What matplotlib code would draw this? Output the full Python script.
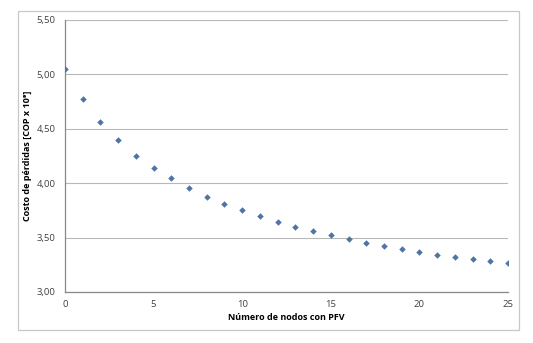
import matplotlib
matplotlib.use("Agg")
import matplotlib.pyplot as plt
from matplotlib.patches import Rectangle
from matplotlib.ticker import FuncFormatter

nodos = list(range(26))
costo = [5.05, 4.77, 4.565, 4.394, 4.247, 4.14, 4.045, 3.953, 3.876, 3.81,
         3.75, 3.696, 3.646, 3.60, 3.56, 3.52, 3.484, 3.45, 3.42, 3.392,
         3.368, 3.343, 3.32, 3.30, 3.285, 3.267]
x_ticks = [0, 5, 10, 15, 20, 25]
y_ticks = [3.0, 3.5, 4.0, 4.5, 5.0, 5.5]

plt.rcParams['font.family'] = ['Open Sans', 'DejaVu Sans']

W, H = 533, 343
fig = plt.figure(figsize=(W / 100, H / 100), dpi=100)
fig.patches.append(Rectangle((18 / W, 1 - 330 / H), (519 - 18) / W, (330 - 11) / H,
                             transform=fig.transFigure, fill=False,
                             edgecolor='#c8c8c8', linewidth=0.9))
ax = fig.add_axes([65 / W, 1 - 292 / H, (508 - 65) / W, (292 - 20) / H])

ax.scatter(nodos, costo, marker='D', s=11, color='#4F74A8', zorder=3, linewidths=0)

ax.set_xlim(0, 25)
ax.set_ylim(3.0, 5.5)
ax.set_xticks(x_ticks)
ax.set_yticks(y_ticks)
ax.yaxis.set_major_formatter(FuncFormatter(lambda v, p: f"{v:.2f}".replace('.', ',')))
ax.grid(axis='y', color='#b8b8b8', linewidth=0.8)
ax.set_axisbelow(True)
for s in ['top', 'right']:
    ax.spines[s].set_visible(False)
for s in ['left', 'bottom']:
    ax.spines[s].set_color('#888888')
    ax.spines[s].set_linewidth(0.9)
ax.tick_params(axis='both', length=0, labelsize=6.8, colors='#404040')
ax.tick_params(axis='x', pad=6)
ax.tick_params(axis='y', pad=7)

ax.set_xlabel('Número de nodos con PFV', fontsize=6.5, fontweight='bold', labelpad=3)
ax.set_ylabel('Costo de pérdidas [COP x 10⁹]', fontsize=6.5, fontweight='bold', labelpad=3)

fig.savefig('out.png', dpi=100)
